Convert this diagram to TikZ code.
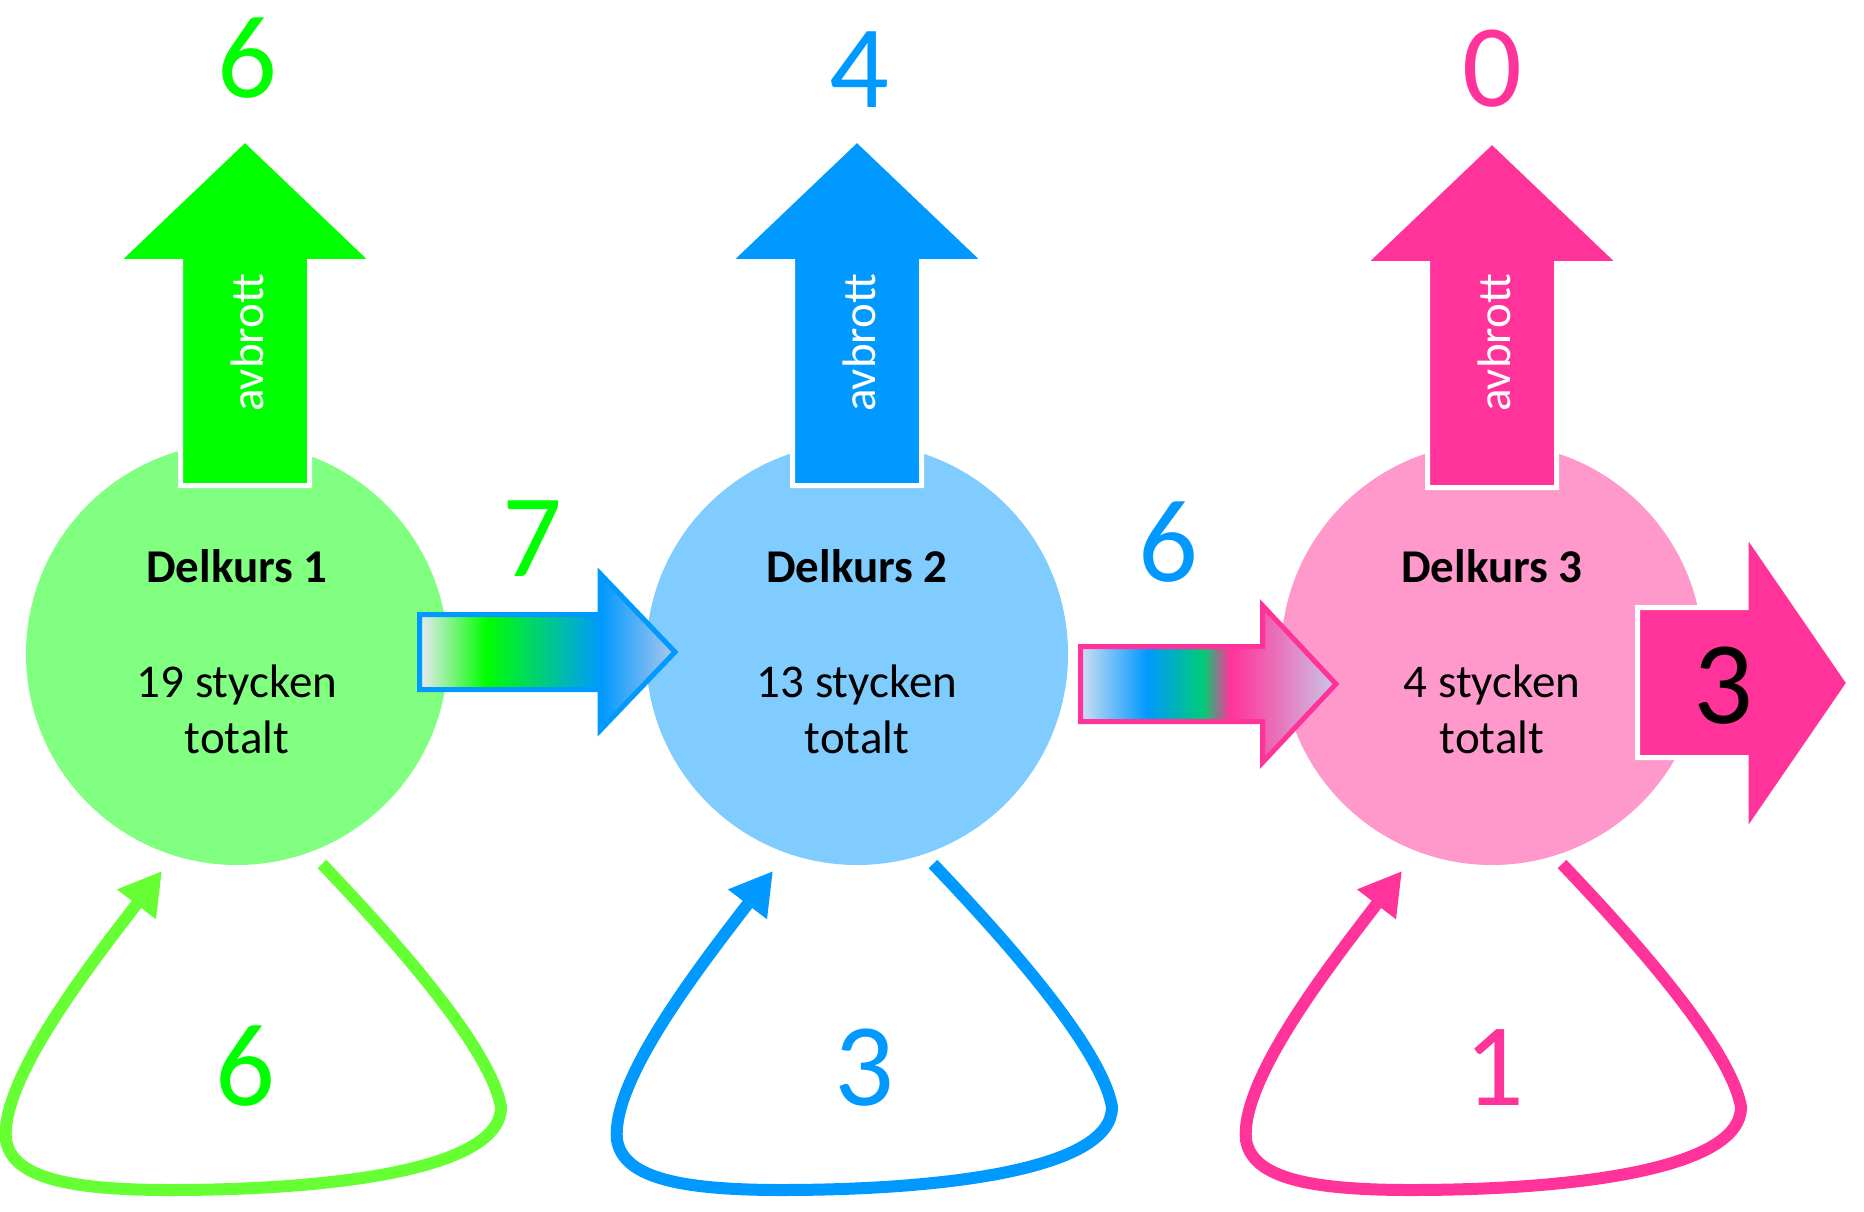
\documentclass[tikz,border=0pt]{standalone}
\usepackage{fontspec}
\setmainfont{Carlito}
\usepackage{tikz}
\usetikzlibrary{positioning,arrows.meta}
\definecolor{gron}{HTML}{00FF00}
\definecolor{ljusgron}{HTML}{80FF80}
\definecolor{slingagron}{HTML}{66FF33}
\definecolor{bla}{HTML}{0099FF}
\definecolor{ljusbla}{HTML}{80CCFF}
\definecolor{rosa}{HTML}{FF3399}
\definecolor{ljusrosa}{HTML}{FF99CC}
\definecolor{start1}{HTML}{DCEAE6}
\definecolor{spets1}{HTML}{B0C8EE}
\definecolor{start2}{HTML}{CFDFF2}
\definecolor{mitt2}{HTML}{00CC77}
\definecolor{rosa2}{HTML}{F060B0}
\definecolor{spets2}{HTML}{C8C8E8}
\pgfdeclarehorizontalshading{pil1}{100bp}{color(0bp)=(start1); color(26bp)=(start1); color(38bp)=(gron); color(60.5bp)=(bla); color(75bp)=(spets1); color(100bp)=(spets1)}
\pgfdeclarehorizontalshading{pil2}{100bp}{color(0bp)=(start2); color(25bp)=(start2); color(38bp)=(bla); color(49bp)=(mitt2); color(54.2bp)=(rosa); color(61bp)=(rosa2); color(75bp)=(spets2); color(100bp)=(spets2)}
\tikzstyle{kurs}=[circle, draw=none, minimum size=422pt, inner sep=0pt]
\tikzstyle{brodtext}=[inner sep=0pt, anchor=base, font=\fontsize{47}{57}\selectfont]
\tikzstyle{siffra}=[inner sep=0pt, anchor=base, font=\fontsize{118}{120}\selectfont]
\tikzstyle{avbrottpil}=[draw=white, line width=5pt, line join=miter]
\tikzstyle{overgang}=[line width=5pt, line join=miter, shade]
\tikzstyle{slinga}=[line width=12pt, -{Triangle[length=42pt,width=46pt]}]

\begin{document}
\begin{tikzpicture}[x=1pt,y=-1pt]
\useasboundingbox (0,0) rectangle (1864,1211);
% delkurser
\node[kurs, fill=ljusgron] (d1) at (237,654) {};
\node[kurs, fill=ljusbla] (d2) at (857,654) {};
\node[kurs, fill=ljusrosa] (d3) at (1492,654) {};
% slingor tillbaka till samma delkurs
\foreach \dx/\col/\n in {0/slingagron/1, 611/bla/2, 1240/rosa/3}{
  \begin{scope}[xshift=\dx]
  \coordinate (ls\n) at (322,864);
  \coordinate (le\n) at (162,871);
  \draw[slinga, draw=\col] (ls\n) .. controls (385,930) and (490,1045) .. (501,1107)
    .. controls (501,1170) and (330,1190) .. (170,1190)
    .. controls (60,1190) and (12,1175) .. (6,1140)
    .. controls (0,1080) and (90,965) .. (le\n);
  \end{scope}
}
% avbrott
\foreach \x/\dy/\col in {245/0/gron, 857/0/bla, 1492/2/rosa}{
  \begin{scope}[xshift=\x, yshift=-\dy]
  \draw[avbrottpil, fill=\col] (-64.5,485.5) -- (-64.5,261.5) -- (-128,261.5) -- (0,139.5) -- (128,261.5) -- (64.5,261.5) -- (64.5,485.5) -- cycle;
  \end{scope}
}
% vidare till nasta delkurs
\draw[overgang, draw=bla, shading=pil1] (419.5,614.5) -- (600,614.5) -- (600,573.5) -- (675,652) -- (600,730.5) -- (600,689.5) -- (419.5,689.5) -- cycle;
\draw[overgang, draw=rosa, shading=pil2] (1080.5,646.5) -- (1262.5,646.5) -- (1262.5,605.5) -- (1336,684) -- (1262.5,762.5) -- (1262.5,721.5) -- (1080.5,721.5) -- cycle;
\draw[avbrottpil, fill=rosa] (1637.5,607.5) -- (1746,607.5) -- (1746,533) -- (1849,683) -- (1746,833) -- (1746,757.5) -- (1637.5,757.5) -- cycle;
% texter
\foreach \x/\n/\antal in {237/1/19, 857/2/13, 1492/3/4}{
  \node[brodtext] (r\n) at (\x,582) {\bfseries Delkurs \n};
  \node[brodtext] (a\n) at (\x,697) {\antal\ stycken};
  \node[brodtext] (t\n) at (\x,753) {totalt};
}
\foreach \x/\n in {263/1, 875/2, 1510/3}{
  \node[brodtext, text=white, rotate=90] (av\n) at (\x,343) {avbrott};
}
\node[siffra, text=gron] (n1) at (247,97) {6};
\node[siffra, text=bla] (n2) at (859,107) {4};
\node[siffra, text=rosa] (n3) at (1492,106) {0};
\node[siffra, text=gron] (m1) at (532,576) {7};
\node[siffra, text=bla] (m2) at (1168,581) {6};
\node[siffra] (ut) at (1723,723) {3};
\node[siffra, text=gron] (s1) at (245,1105) {6};
\node[siffra, text=bla] (s2) at (864,1105) {3};
\node[siffra, text=rosa] (s3) at (1494,1105) {1};
\end{tikzpicture}
\end{document}
